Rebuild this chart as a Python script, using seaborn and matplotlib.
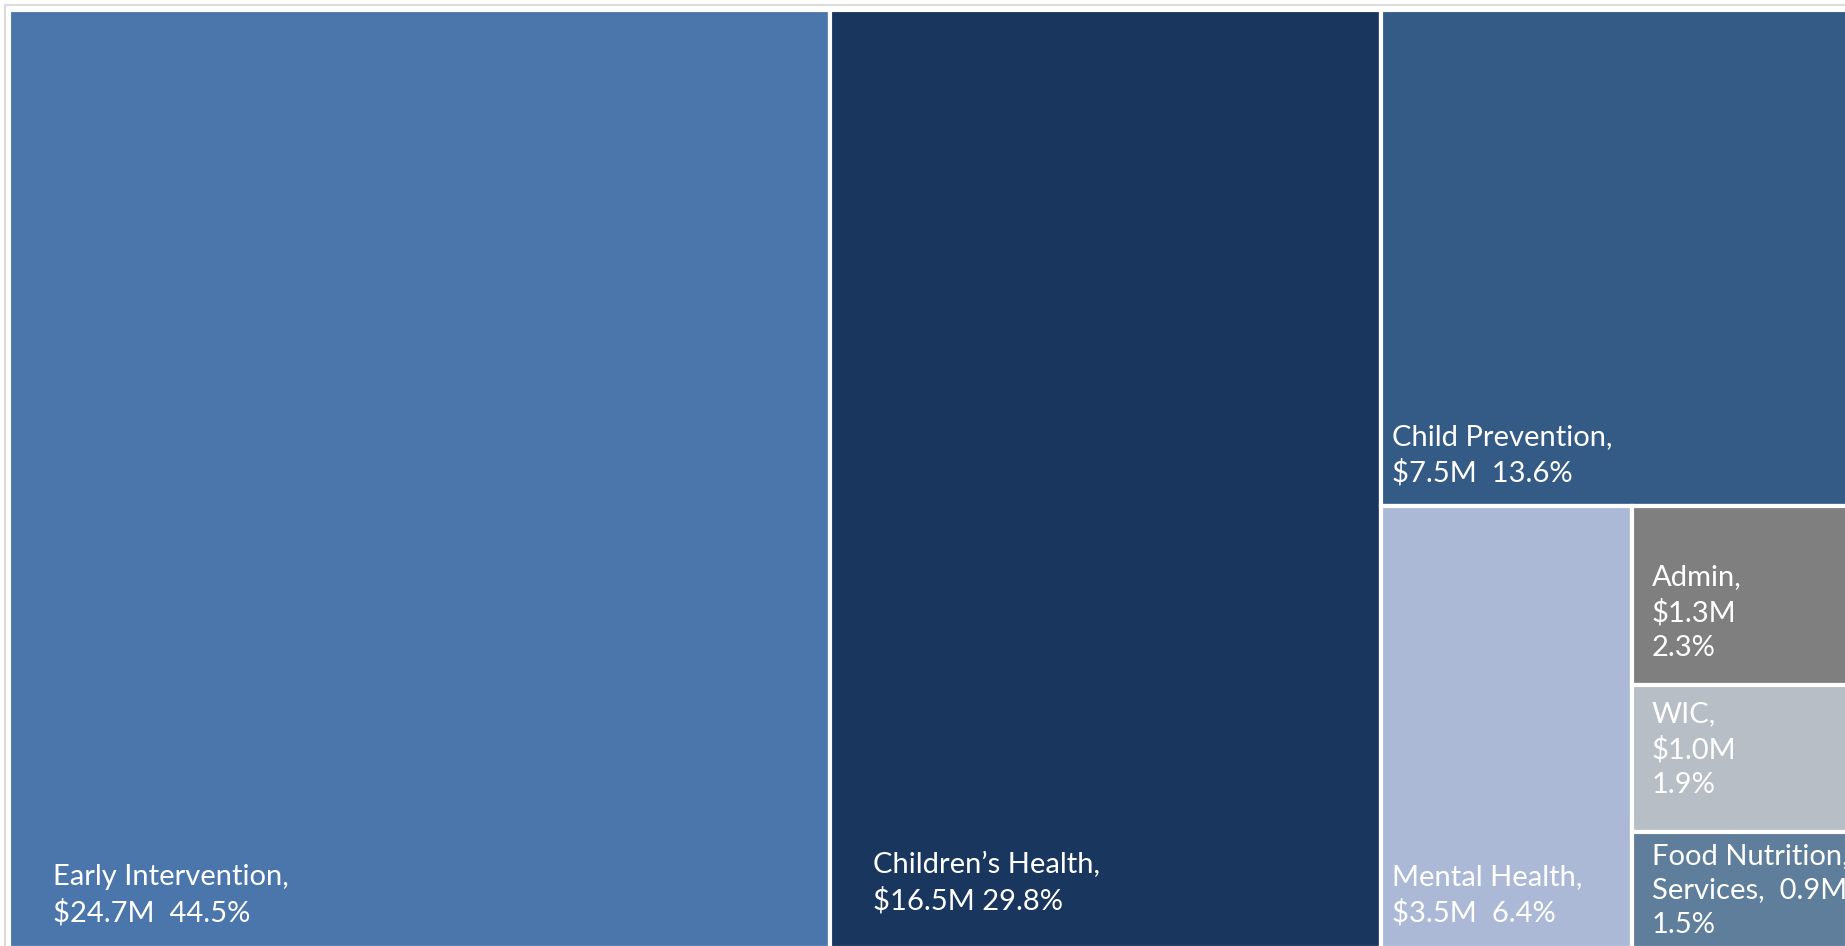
import matplotlib
matplotlib.use("Agg")
import matplotlib.pyplot as plt
from matplotlib.patches import Rectangle
import seaborn as sns

# Budget by program (share of total, %)
programs = ["Early Intervention", "Children's Health", "Child Prevention", "Mental Health",
            "Admin", "WIC", "Food Nutrition Services"]
amounts = [24.7, 16.5, 7.5, 3.5, 1.3, 1.0, 0.9]
shares = [44.5, 29.8, 13.6, 6.4, 2.3, 1.9, 1.5]
labels = ["Early Intervention,\n$24.7M  44.5%",
          "Children\u2019s Health,\n$16.5M 29.8%",
          "Child Prevention,\n$7.5M  13.6%",
          "Mental Health,\n$3.5M  6.4%",
          "Admin,\n$1.3M\n2.3%",
          "WIC,\n$1.0M\n1.9%",
          "Food Nutrition,\nServices,  0.9M\n1.5%"]
colors = ["#4a76ab", "#18365e", "#345a86", "#abb9d6", "#7f7f7f", "#b8bec5", "#5e7e9b"]

# nesting of the treemap (slice-and-dice, alternating direction)
tree = [0, 1, [2, [3, [4, 5, 6]]]]

# label placement inside each cell: (x pad, y pad) in axes-fraction units
label_pads = [(0.024, 0.023), (0.023, 0.036), (0.006, 0.021),
              (0.006, 0.023), (0.011, 0.025), (0.011, 0.036),
              (0.011, 0.011)]


def node_total(node):
    if isinstance(node, list):
        return sum(node_total(n) for n in node)
    return shares[node]


def layout(node, x, y, w, h, horizontal, out):
    if not isinstance(node, list):
        out[node] = (x, y, w, h)
        return
    tot = node_total(node)
    pos = x if horizontal else y
    for child in node:
        frac = node_total(child) / tot
        if horizontal:
            layout(child, pos, y, w * frac, h, not horizontal, out)
            pos += w * frac
        else:
            layout(child, x, pos, w, h * frac, not horizontal, out)
            pos += h * frac


sns.set_theme(style="white")
plt.rcParams['font.family'] = ['Lato', 'DejaVu Sans']

W, H = 1845, 946
fig = plt.figure(figsize=(W / 100, H / 100), dpi=100)
fig.patch.set_facecolor("white")

# frame line of the original plot area
fig.patches.append(Rectangle((4.5 / W, -0.1), 1.2, 1.1 - 5.5 / H, transform=fig.transFigure,
                             fill=False, edgecolor="#dcdcdc", linewidth=1.5))

ax = fig.add_axes([9 / W, -2 / H, 1846 / W, 938 / H])
ax.set_xlim(0, 1)
ax.set_ylim(1, 0)
ax.axis("off")

rects = {}
layout(tree, 0, 0, 1, 1, True, rects)

for i in range(len(programs)):
    x, y, w, h = rects[i]
    ax.add_patch(Rectangle((x, y), w, h, facecolor=colors[i], edgecolor="white", linewidth=3))
    px, py = label_pads[i]
    ax.text(x + px, y + h - py, labels[i], color="white", fontsize=21, ha="left", va="bottom",
            linespacing=1.4)

fig.savefig("out.png", dpi=100)
